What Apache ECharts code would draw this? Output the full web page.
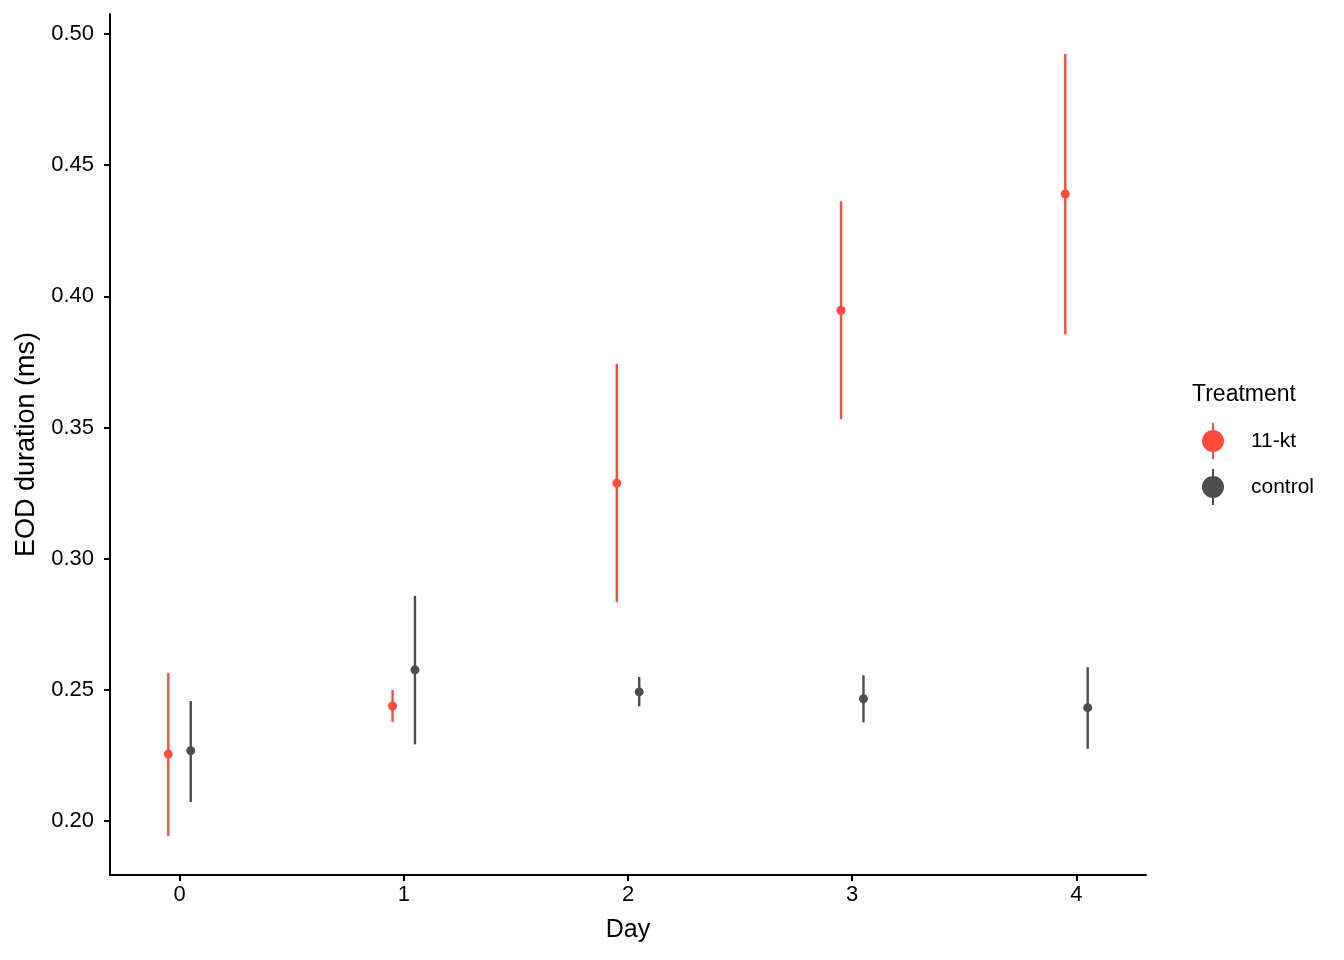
<!DOCTYPE html>
<html>
<head>
<meta charset="utf-8">
<script src="https://cdn.jsdelivr.net/npm/echarts@6/dist/echarts.min.js"></script>
<style>
html,body{margin:0;padding:0;background:#fff;}
#chart{width:1344px;height:960px;}
</style>
</head>
<body>
<div id="chart"></div>
<script>
const days = [0, 1, 2, 3, 4];
const groups = ['11-kt', 'control'];
const ktMean = [0.2255, 0.2438, 0.3288, 0.3946, 0.4390];
const ktLow  = [0.1943, 0.2377, 0.2834, 0.3531, 0.3855];
const ktHigh = [0.2564, 0.2499, 0.3742, 0.4362, 0.4924];
const ctlMean = [0.2268, 0.2576, 0.2492, 0.2466, 0.2432];
const ctlLow  = [0.2072, 0.2292, 0.2437, 0.2376, 0.2275];
const ctlHigh = [0.2457, 0.2858, 0.2549, 0.2555, 0.2586];
const yTicks = [0.20, 0.25, 0.30, 0.35, 0.40, 0.45, 0.50];
const xTicks = [0, 1, 2, 3, 4];

const colors = { '11-kt': '#FF4B3A', 'control': '#4D4D4D' };
const dodge = { '11-kt': -0.05, 'control': 0.05 };
const FONT = '"Liberation Sans", Arial, Helvetica, sans-serif';

function rows(mean, low, high) {
  return days.map((d, i) => [d, mean[i], low[i], high[i]]);
}

function makeSeries(name, data) {
  const color = colors[name];
  const off = dodge[name];
  return {
    name: name,
    type: 'custom',
    data: data,
    encode: { x: 0, y: [1, 2, 3] },
    renderItem: function (params, api) {
      const x = api.value(0) + off;
      const m = api.coord([x, api.value(1)]);
      const lo = api.coord([x, api.value(2)]);
      const hi = api.coord([x, api.value(3)]);
      return {
        type: 'group',
        children: [
          { type: 'line', shape: { x1: lo[0], y1: lo[1], x2: hi[0], y2: hi[1] },
            style: { stroke: color, lineWidth: 2.4 } },
          { type: 'circle', shape: { cx: m[0], cy: m[1], r: 4.5 },
            style: { fill: color } }
        ]
      };
    }
  };
}

const legendIcon = 'path://M9,0 L11,0 L11,36 L9,36 Z M10,7 A11,11 0 1,1 9.99,7 Z';

const chart = echarts.init(document.getElementById('chart'), null, { renderer: 'canvas' });
chart.setOption({
  animation: false,
  backgroundColor: '#fff',
  color: [colors['11-kt'], colors['control']],
  textStyle: { fontFamily: FONT },
  grid: { left: 110, right: 198, top: 14, bottom: 85, containLabel: false },
  title: {
    text: 'Treatment', left: 1187, top: 378,
    textStyle: { fontFamily: FONT, fontSize: 23, fontWeight: 'normal', color: '#000' }
  },
  legend: {
    orient: 'vertical', left: 1197, top: 418,
    itemWidth: 22, itemHeight: 36, itemGap: 10,
    icon: legendIcon,
    data: groups.map(g => ({ name: g, icon: legendIcon, itemStyle: { color: colors[g] } })),
    textStyle: { fontFamily: FONT, fontSize: 21, color: '#000', padding: [0, 0, 0, 22] }
  },
  xAxis: {
    type: 'value', min: -0.31, max: 4.31,
    name: 'Day', nameLocation: 'middle', nameGap: 43,
    nameTextStyle: { fontFamily: FONT, fontSize: 25, color: '#000' },
    splitLine: { show: false },
    axisLine: { show: true, onZero: false, lineStyle: { color: '#000', width: 2 } },
    axisTick: { show: true, length: 6, customValues: xTicks, lineStyle: { color: '#000', width: 2 } },
    axisLabel: { customValues: xTicks, fontFamily: FONT, fontSize: 22, color: '#000', margin: 9 }
  },
  yAxis: {
    type: 'value', min: 0.1794, max: 0.5076,
    name: 'EOD duration (ms)', nameLocation: 'middle', nameGap: 68, nameRotate: 90,
    nameTextStyle: { fontFamily: FONT, fontSize: 27, color: '#000' },
    splitLine: { show: false },
    axisLine: { show: true, onZero: false, lineStyle: { color: '#000', width: 2 } },
    axisTick: { show: true, length: 6, customValues: yTicks, lineStyle: { color: '#000', width: 2 } },
    axisLabel: { customValues: yTicks, fontFamily: FONT, fontSize: 22, color: '#000', margin: 16,
      formatter: v => v.toFixed(2) }
  },
  series: [
    makeSeries('11-kt', rows(ktMean, ktLow, ktHigh)),
    makeSeries('control', rows(ctlMean, ctlLow, ctlHigh))
  ]
});
</script>
</body>
</html>
